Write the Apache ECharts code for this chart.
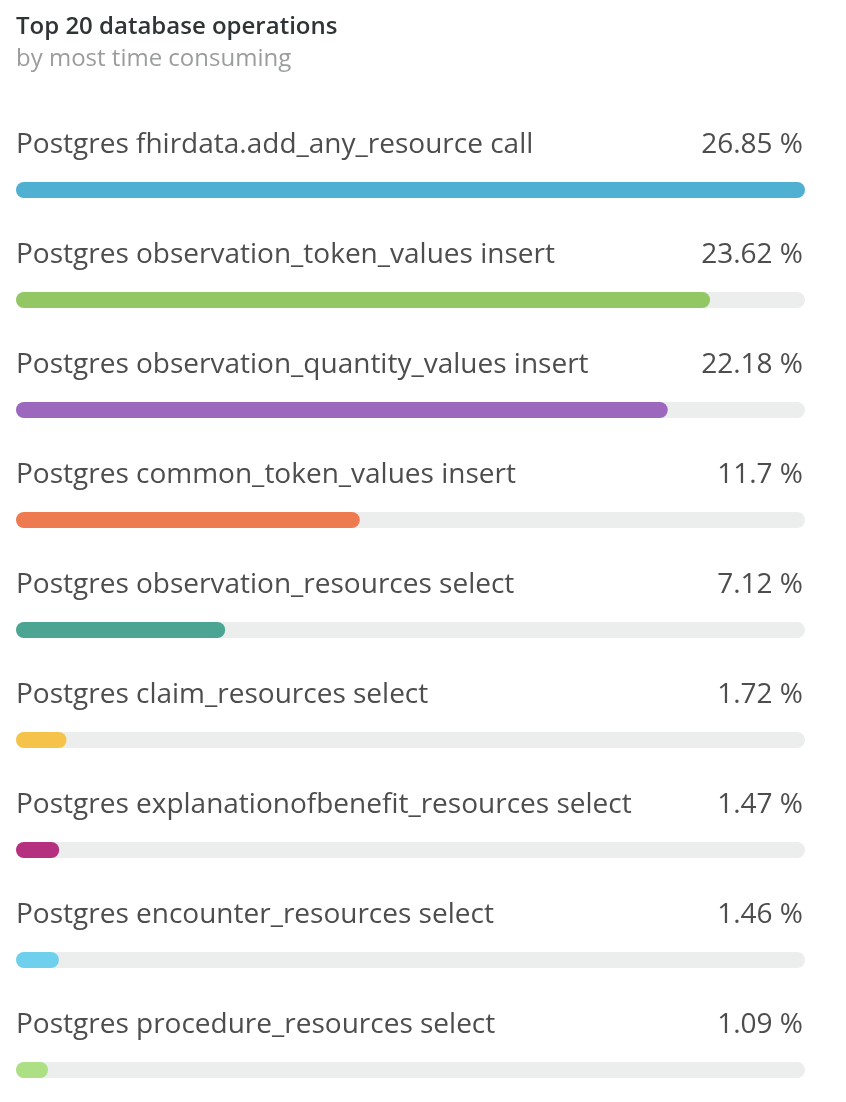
<!DOCTYPE html>
<html>
<head>
<meta charset="utf-8">
<script src="https://cdn.jsdelivr.net/npm/echarts@6/dist/echarts.min.js"></script>
<style>
html,body{margin:0;padding:0;background:#fff;}
#chart{width:846px;height:1102px;}
</style>
</head>
<body>
<div id="chart"></div>
<script>
const categories = [
  "Postgres fhirdata.add_any_resource call",
  "Postgres observation_token_values insert",
  "Postgres observation_quantity_values insert",
  "Postgres common_token_values insert",
  "Postgres observation_resources select",
  "Postgres claim_resources select",
  "Postgres explanationofbenefit_resources select",
  "Postgres encounter_resources select",
  "Postgres procedure_resources select"
];
const values = [26.85, 23.62, 22.18, 11.7, 7.12, 1.72, 1.47, 1.46, 1.09];
const percentLabels = ["26.85 %", "23.62 %", "22.18 %", "11.7 %", "7.12 %", "1.72 %", "1.47 %", "1.46 %", "1.09 %"];
const colors = ["#4fb0d2", "#93c764", "#9c68bd", "#ee7a50", "#4ca593", "#f5c34a", "#b5307f", "#6fd0ee", "#ade084"];

const chart = echarts.init(document.getElementById('chart'));
const font = '"Open Sans", sans-serif';
const labelCommon = {
  inside: true, verticalAlign: 'middle',
  lineHeight: 45,
  interval: 0, showMinLabel: true, showMaxLabel: true, hideOverlap: false,
  formatter: v => v + '\n\n',
  fontFamily: font, fontSize: 28, color: '#4d4d4d'
};
chart.setOption({
  animation: false,
  title: {
    text: 'Top 20 database operations',
    subtext: 'by most time consuming',
    left: 11,
    top: 10,
    itemGap: 8,
    textStyle: { fontFamily: font, fontSize: 24, fontWeight: 600, color: '#2f3436' },
    subtextStyle: { fontFamily: font, fontSize: 24, fontWeight: 400, color: '#9a9d9e' }
  },
  grid: { left: 16, right: 41, top: 135, height: 990, containLabel: false, outerBoundsMode: 'none' },
  xAxis: {
    type: 'value', min: 0, max: Math.max(...values),
    show: false
  },
  yAxis: [
    {
      type: 'category', data: categories, inverse: true,
      axisLine: { show: false }, axisTick: { show: false }, splitLine: { show: false },
      axisLabel: Object.assign({}, labelCommon, { margin: 0, align: 'left' })
    },
    {
      type: 'category', data: percentLabels, inverse: true, position: 'right',
      axisLine: { show: false }, axisTick: { show: false }, splitLine: { show: false },
      axisLabel: Object.assign({}, labelCommon, { margin: 2, align: 'right' })
    }
  ],
  series: [{
    type: 'bar',
    data: values.map((v, i) => ({ value: v, itemStyle: { color: colors[i] } })),
    barWidth: 16,
    itemStyle: { borderRadius: 8 },
    showBackground: true,
    backgroundStyle: { color: '#eceeee', borderRadius: 8 }
  }]
});
</script>
</body>
</html>
